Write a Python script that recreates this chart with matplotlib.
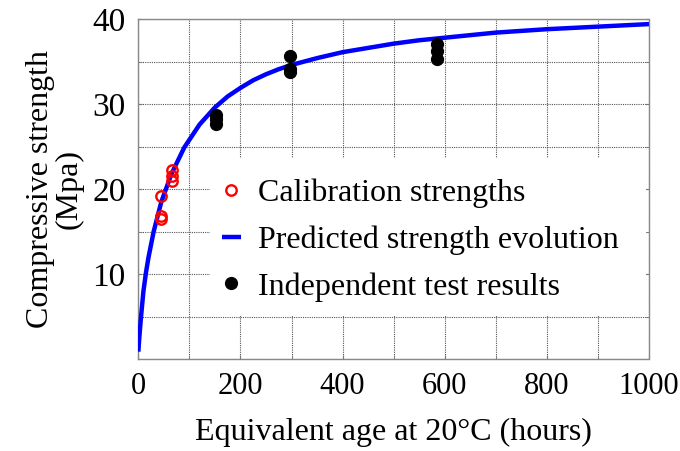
import matplotlib
matplotlib.use("Agg")
import matplotlib.pyplot as plt
from matplotlib.patches import Rectangle
from matplotlib.ticker import MultipleLocator

# predicted strength curve
curve_age = [0, 2, 5, 10, 15, 20, 30, 45, 65, 90, 120, 150, 175, 200, 225,
             250, 275, 300, 350, 400, 450, 500, 550, 600, 650, 700, 800,
             900, 1000]
curve_strength = [0.9, 2.6, 4.8, 8.0, 10.2, 12.0, 15.0, 18.5, 21.8, 24.9,
                  27.6, 29.6, 30.9, 31.9, 32.8, 33.5, 34.1, 34.6, 35.4, 36.1,
                  36.6, 37.1, 37.5, 37.8, 38.1, 38.4, 38.8, 39.1, 39.4]

# calibration strengths (red open circles)
calib_age = [45, 45, 45, 66, 66, 66]
calib_strength = [19.2, 16.9, 16.5, 22.2, 21.5, 21.0]

# independent test results (black dots)
test_age = [152, 152, 152, 298, 298, 298, 584, 584, 584]
test_strength = [28.7, 28.2, 27.7, 35.6, 34.1, 33.8, 37.1, 36.2, 35.3]

plt.rcParams['font.family'] = ['Liberation Serif', 'DejaVu Serif']

fig = plt.figure(figsize=(6.8, 4.51), dpi=100)
ax = fig.add_axes([0.2034, 0.2033, 0.751, 0.7546])

ax.plot(curve_age, curve_strength, color='#0000ff', lw=3.2,
        solid_capstyle='butt', solid_joinstyle='round', zorder=3,
        label='Predicted strength evolution')
ax.plot(calib_age, calib_strength, 'o', mfc='none', mec='#ff0000', mew=1.7,
        ms=7.5, zorder=4, label='Calibration strengths')
ax.plot(test_age, test_strength, 'o', color='black', ms=8.5, zorder=4,
        label='Independent test results')

ax.set_xlim(0, 1000)
ax.set_ylim(0, 40)
ax.xaxis.set_major_locator(MultipleLocator(200))
ax.xaxis.set_minor_locator(MultipleLocator(100))
ax.yaxis.set_major_locator(MultipleLocator(10))
ax.yaxis.set_minor_locator(MultipleLocator(5))
ax.set_yticks([10, 20, 30, 40])

ax.grid(True, which='both', color='#555555', linestyle=(0, (1, 1)), lw=0.8)
ax.set_axisbelow(True)
ax.tick_params(which='both', direction='in', length=3, color='#777777',
               top=False, right=True, pad=9)
ax.tick_params(axis='x', labelsize=22)
ax.tick_params(axis='y', labelsize=24)
for s in ax.spines.values():
    s.set_color('#888888')
    s.set_linestyle((0, (1, 1)))
    s.set_linewidth(1.0)

# white box behind the legend hides the grid there
ax.add_patch(Rectangle((0.140, 0.127), 0.854, 0.465, transform=ax.transAxes,
                       facecolor='white', edgecolor='none', zorder=1.5))

handles, labels = ax.get_legend_handles_labels()
order = [1, 0, 2]
ax.legend([handles[i] for i in order], [labels[i] for i in order],
          loc='upper left', bbox_to_anchor=(0.163, 0.531), frameon=False,
          fontsize=23, handlelength=0.6, handletextpad=0.53,
          labelspacing=0.54, borderpad=0, borderaxespad=0)

ax.set_xlabel('Equivalent age at 20°C (hours)', fontsize=23, labelpad=12)
ax.set_ylabel('Compressive strength\n(Mpa)', fontsize=23, labelpad=6,
              linespacing=1.0)

fig.savefig('out.png', dpi=100)
